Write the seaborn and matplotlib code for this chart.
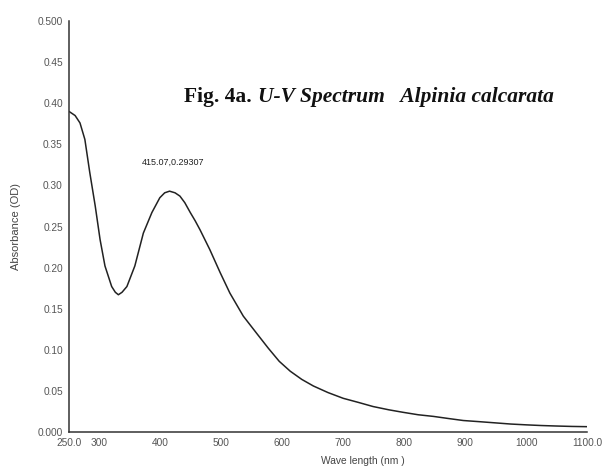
import numpy as np
import pandas as pd
import matplotlib
matplotlib.use("Agg")
import matplotlib.pyplot as plt
import seaborn as sns

# values
wavelength = [250, 260, 268, 276, 284, 293, 301, 309, 320, 326, 331, 337, 345, 358,
              372, 386, 399, 407, 415, 424, 432, 440, 449, 457, 465, 481, 498, 514,
              536, 558, 577, 595, 613, 632, 651, 675, 700, 725, 749, 775, 798, 823,
              848, 872, 897, 925, 952, 975, 1001, 1025, 1050, 1075, 1100]
absorbance = [0.390, 0.385, 0.376, 0.356, 0.316, 0.275, 0.234, 0.202, 0.177, 0.170,
              0.167, 0.170, 0.177, 0.202, 0.242, 0.267, 0.285, 0.291, 0.293, 0.291,
              0.287, 0.279, 0.267, 0.257, 0.246, 0.222, 0.194, 0.169, 0.141, 0.120,
              0.102, 0.086, 0.074, 0.064, 0.056, 0.048, 0.041, 0.036, 0.031, 0.027,
              0.024, 0.021, 0.019, 0.0165, 0.014, 0.0125, 0.011, 0.0097, 0.0087,
              0.0079, 0.0073, 0.0068, 0.0065]
peak_label = "415.07,0.29307"
peak_pos = (420, 0.328)

xticks = [250, 300, 400, 500, 600, 700, 800, 900, 1000, 1100]
xlabels = ["250.0", "300", "400", "500", "600", "700", "800", "900", "1000", "1100.0"]
yticks = [0.0, 0.05, 0.10, 0.15, 0.20, 0.25, 0.30, 0.35, 0.40, 0.45, 0.50]
ylabels = ["0.000", "0.05", "0.10", "0.15", "0.20", "0.25", "0.30", "0.35", "0.40", "0.45", "0.500"]

df = pd.DataFrame({"wl": wavelength, "od": absorbance})

sns.set_style("white")
plt.rcParams['font.family'] = ['Liberation Sans', 'DejaVu Sans']

fig = plt.figure(figsize=(6.07, 4.72), dpi=100)
ax = fig.add_axes([0.1137, 0.0847, 0.8533, 0.8708])
sns.lineplot(data=df, x="wl", y="od", ax=ax, color="#222222", linewidth=1.1)

ax.set_xlim(250, 1100)
ax.set_ylim(0, 0.5)
ax.set_xticks(xticks)
ax.set_xticklabels(xlabels)
ax.set_yticks(yticks)
ax.set_yticklabels(ylabels)
ax.tick_params(axis="both", direction="out", length=3, width=1, colors="#333333",
               labelsize=7.3, labelcolor="#555555", pad=1.5)
for s in ["top", "right"]:
    ax.spines[s].set_visible(False)
for s in ["left", "bottom"]:
    ax.spines[s].set_color("#333333")
    ax.spines[s].set_linewidth(1.1)
ax.set_xlabel("")
ax.set_ylabel("Absorbance (OD)", fontsize=8, color="#444444", labelpad=12)

ax.text(peak_pos[0], peak_pos[1], peak_label, fontsize=6.5, ha="center", va="center",
        color="#222222")

fig.text(0.598, 0.013, "Wave length (nm )", fontsize=7.4, color="#444444", ha="center", va="bottom")

fig.text(0.303, 0.794, "Fig. 4a.", fontsize=15.5, fontweight="bold", family=["Liberation Serif"],
         ha="left", va="center", color="#111111")
fig.text(0.425, 0.794, "U-V Spectrum   Alpinia calcarata", fontsize=15.5, fontweight="bold",
         fontstyle="italic", family=["Liberation Serif"], ha="left", va="center", color="#111111")

fig.savefig("out.png", dpi=100)
